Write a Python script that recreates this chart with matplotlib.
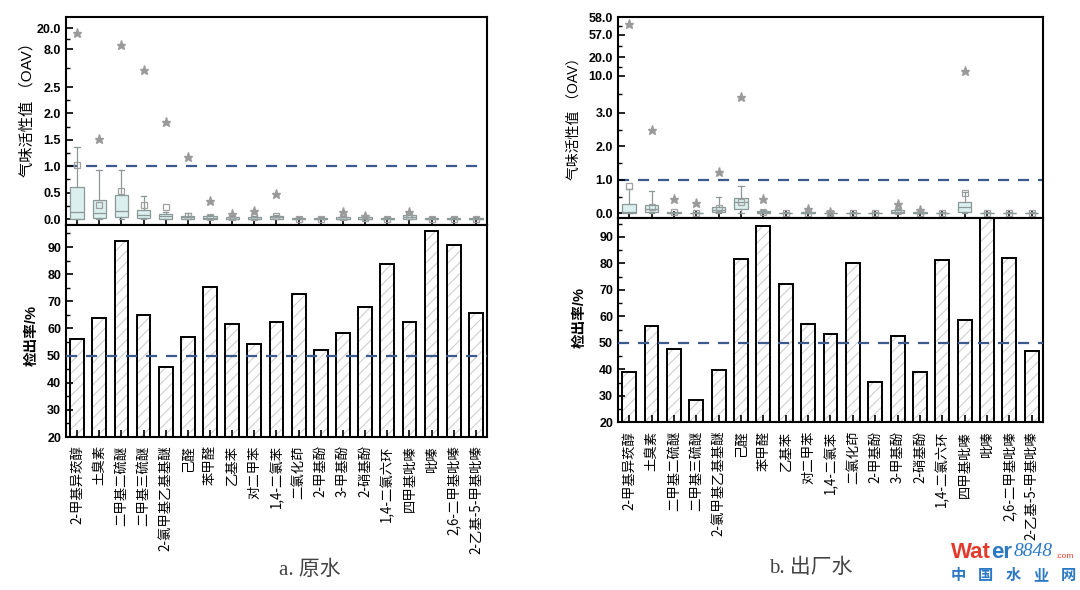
import matplotlib
matplotlib.use('Agg')
import matplotlib.pyplot as plt
import matplotlib.ticker as mticker
import numpy as np

plt.rcParams['font.family'] = ['Liberation Sans', 'Noto Sans CJK SC']
plt.rcParams['axes.unicode_minus'] = False
plt.rcParams['hatch.linewidth'] = 0.8

# ---------------- 数据 ----------------
names = ['2-甲基异莰醇', '土臭素', '二甲基二硫醚', '二甲基三硫醚', '2-氯甲基乙基基醚',
         '己醛', '苯甲醛', '乙基苯', '对二甲苯', '1,4-二氯苯', '二氯化茚',
         '2-甲基酚', '3-甲基酚', '2-硝基酚', '1,4-二氯六环', '四甲基吡嗪',
         '吡嗪', '2,6-二甲基吡嗪', '2-乙基-5-甲基吡嗪']

# 检出率 (%)
rate_raw = [56.0, 64.0, 92.1, 64.8, 45.9, 56.7, 75.3, 61.5, 54.4, 62.4,
            72.7, 51.9, 58.4, 68.0, 83.7, 62.4, 96.0, 90.7, 65.8]
rate_out = [38.9, 56.3, 47.6, 28.6, 39.9, 81.6, 93.9, 72.2, 57.0, 53.2,
            80.0, 35.2, 52.4, 38.9, 81.4, 58.7, 100.0, 81.9, 47.0]

# 气味活性值 OAV 箱线图 - 原水
raw_q1 = [0, 0.02, 0.04, 0.02, 0.01, 0.005, 0.005, 0, 0, 0.005,
          0, 0, 0, 0, 0, 0.01, 0, 0, 0]
raw_med = [0.14, 0.12, 0.16, 0.07, 0.05, 0.03, 0.02, 0.01, 0.01, 0.03,
           0.005, 0.005, 0.01, 0.01, 0.005, 0.03, 0.005, 0.005, 0.005]
raw_q3 = [0.61, 0.37, 0.45, 0.18, 0.10, 0.06, 0.05, 0.03, 0.03, 0.06,
          0.02, 0.02, 0.03, 0.03, 0.02, 0.07, 0.02, 0.02, 0.02]
raw_hi = [1.37, 0.92, 0.92, 0.43, 0.13, 0.12, 0.08, 0.05, 0.05, 0.08,
          0.03, 0.03, 0.05, 0.05, 0.03, 0.09, 0.03, 0.03, 0.03]
raw_mean = [1.03, 0.26, 0.54, 0.26, 0.23, 0.05, 0.04, 0.03, 0.03, 0.05,
            0.01, 0.01, 0.03, 0.02, 0.01, 0.05, 0.01, 0.01, 0.01]
raw_star = [17.0, 1.52, 10.5, 5.0, 1.84, 1.17, 0.34, 0.09, 0.16, 0.48,
            None, None, 0.13, 0.06, None, 0.14, None, None, None]

# 气味活性值 OAV 箱线图 - 出厂水
out_q1 = [0, 0.04, 0, 0, 0.03, 0.12, 0.01, 0, 0, 0,
          0, 0, 0.01, 0, 0, 0.03, 0, 0, 0]
out_med = [0.05, 0.12, 0.01, 0.005, 0.10, 0.33, 0.04, 0.005, 0.01, 0.005,
           0.005, 0.005, 0.05, 0.01, 0.005, 0.18, 0.005, 0.005, 0.005]
out_q3 = [0.28, 0.26, 0.03, 0.02, 0.18, 0.47, 0.07, 0.02, 0.03, 0.02,
          0.02, 0.02, 0.11, 0.03, 0.02, 0.33, 0.02, 0.02, 0.02]
out_hi = [0.73, 0.68, 0.05, 0.04, 0.48, 0.83, 0.10, 0.03, 0.05, 0.03,
          0.03, 0.03, 0.14, 0.05, 0.03, 0.63, 0.03, 0.03, 0.03]
out_mean = [0.83, 0.20, 0.03, 0.02, 0.15, 0.35, 0.05, 0.01, 0.02, 0.02,
            0.01, 0.01, 0.06, 0.02, 0.01, 0.60, 0.01, 0.01, 0.01]
out_star = [57.6, 2.48, 0.42, 0.32, 1.22, 6.0, 0.42, None, 0.12, 0.05,
            None, None, 0.28, 0.10, None, 12.7, None, None, None]

raw_ticks = [0.0, 0.5, 1.0, 1.5, 2.0, 2.5, 8.0, 20.0]
out_ticks = [0.0, 1.0, 2.0, 3.0, 10.0, 20.0, 57.0, 58.0]

# 分段纵轴 (数值 -> 相对位置)
raw_knot_v = [-1, 0, 2.5, 8, 20, 40]
raw_knot_p = [-52, 0, 132, 170, 191, 226]
out_knot_v = [-1, 0, 3, 10, 20, 57, 58, 60]
out_knot_p = [-33.5, 0, 100.5, 137.6, 156, 178.3, 196, 230]

LINE_C = '#3d5a8c'
BOX_FACE = '#dcefef'
BOX_EDGE = '#8c9898'
STAR_C = '#9a9a9a'


def piecewise(kv, kp):
    kv = np.asarray(kv, float)
    kp = np.asarray(kp, float)
    return (lambda v: np.interp(v, kv, kp), lambda p: np.interp(p, kp, kv))


def style_axis(ax):
    for s in ax.spines.values():
        s.set_linewidth(1.5)
    ax.tick_params(axis='both', which='both', direction='in', top=False, right=False)
    ax.tick_params(axis='both', which='major', length=5, width=1.2)
    ax.tick_params(axis='both', which='minor', length=3, width=1.0)
    for lab in ax.get_yticklabels():
        lab.set_fontweight('bold')
        lab.set_fontsize(9)


def draw_box(ax, q1, med, q3, hi, mean, star, kv, kp, ticks, ylim, lab_size):
    stats = []
    for i in range(len(names)):
        stats.append(dict(q1=q1[i], med=med[i], q3=q3[i], whislo=0.0, whishi=hi[i],
                          mean=mean[i], fliers=[] if star[i] is None else [star[i]]))
    fwd, inv = piecewise(kv, kp)
    ax.set_yscale('function', functions=(fwd, inv))
    ax.bxp(stats, positions=np.arange(len(names)), widths=0.6, patch_artist=True,
           showmeans=True, capwidths=0.25,
           boxprops=dict(facecolor=BOX_FACE, edgecolor=BOX_EDGE, linewidth=0.9),
           medianprops=dict(color=BOX_EDGE, linewidth=0.9),
           whiskerprops=dict(color=BOX_EDGE, linewidth=0.9),
           capprops=dict(color=BOX_EDGE, linewidth=0.9),
           meanprops=dict(marker='s', markerfacecolor='none', markeredgecolor='#a0a0a0',
                          markersize=5, markeredgewidth=0.9),
           flierprops=dict(marker='*', markerfacecolor=STAR_C, markeredgecolor=STAR_C,
                           markersize=6.5))
    ax.axhline(1.0, color=LINE_C, lw=1.6, ls=(0, (5, 4)), zorder=0)
    ax.set_xlim(-0.5, len(names) - 0.5)
    ax.set_ylim(*ylim)
    ax.yaxis.set_major_locator(mticker.FixedLocator(ticks))
    ax.yaxis.set_major_formatter(mticker.FormatStrFormatter('%.1f'))
    pos = fwd(np.array(ticks))
    minors = inv((pos[:-1] + pos[1:]) / 2)
    ax.yaxis.set_minor_locator(mticker.FixedLocator(minors))
    ax.set_xticks(np.arange(len(names)))
    ax.set_xticklabels([])
    style_axis(ax)
    ax.set_ylabel('气味活性值 （OAV）', fontsize=lab_size)


def draw_bar(ax, rate, ylim):
    x = np.arange(len(names))
    ax.bar(x, rate, width=0.62, color='white', edgecolor='#cfcfcf', hatch='///',
           linewidth=0, zorder=1)
    ax.bar(x, rate, width=0.62, fill=False, edgecolor='black', linewidth=1.4, zorder=2)
    ax.axhline(50, color=LINE_C, lw=1.6, ls=(0, (5, 4)), zorder=3)
    ax.set_xlim(-0.5, len(names) - 0.5)
    ax.set_ylim(*ylim)
    ax.yaxis.set_major_locator(mticker.MultipleLocator(10))
    ax.yaxis.set_minor_locator(mticker.MultipleLocator(5))
    ax.set_xticks(x)
    ax.set_xticklabels(names, rotation=90, fontsize=9.6, family=['Noto Sans CJK SC'],
                       va='top', ha='center')
    style_axis(ax)
    ax.tick_params(axis='x', pad=6)
    ax.set_ylabel('检出率/%', fontsize=10.5, fontweight='bold')


fig = plt.figure(figsize=(10.8, 5.9), dpi=100)

# 原水
ax_a1 = fig.add_axes([0.0611, 0.6186, 0.3898, 0.3526])
ax_a2 = fig.add_axes([0.0611, 0.2593, 0.3898, 0.3593])
draw_box(ax_a1, raw_q1, raw_med, raw_q3, raw_hi, raw_mean, raw_star,
         raw_knot_v, raw_knot_p, raw_ticks, (-0.115, 26.3), 11)
draw_bar(ax_a2, rate_raw, (20, 98.1))
ax_a1.yaxis.set_label_coords(-0.075, 0.57)
ax_a2.yaxis.set_label_coords(-0.066, 0.48)

# 出厂水
ax_b1 = fig.add_axes([0.5722, 0.6310, 0.3935, 0.3397])
ax_b2 = fig.add_axes([0.5722, 0.2842, 0.3935, 0.3468])
draw_box(ax_b1, out_q1, out_med, out_q3, out_hi, out_mean, out_star,
         out_knot_v, out_knot_p, out_ticks, (-0.13, 58.0), 10)
draw_bar(ax_b2, rate_out, (20, 97.2))
ax_b1.yaxis.set_label_coords(-0.087, 0.51)
ax_b2.yaxis.set_label_coords(-0.073, 0.51)

# 图注
cap_font = ['Liberation Serif', 'Noto Sans CJK SC']
fig.text(310 / 1080, 1 - 570 / 590, 'a. 原水', fontsize=15, family=cap_font,
         color='#444444', ha='center', va='center')
fig.text(811 / 1080, 1 - 568 / 590, 'b. 出厂水', fontsize=15, family=cap_font,
         color='#444444', ha='center', va='center')

# 水印
fig.text(951 / 1080, 1 - 553 / 590, 'Wat', fontsize=16, fontweight='bold',
         color='#e23b2e', va='center')
fig.text(991 / 1080, 1 - 553 / 590, 'er', fontsize=16, fontweight='bold',
         color='#2b78c5', va='center')
fig.text(1014 / 1080, 1 - 552 / 590, '8848', fontsize=14, style='italic',
         family=['Liberation Serif'], color='#2b78c5', va='center')
fig.text(1055 / 1080, 1 - 557 / 590, '.com', fontsize=6, color='#e23b2e', va='center')
for k, ch in enumerate('中国水业网'):
    fig.text((958 + k * 27.5) / 1080, 1 - 575 / 590, ch, fontsize=11, fontweight='bold',
             family=['Noto Sans CJK SC'], color='#2b78c5', ha='center', va='center')

plt.savefig('out.png', dpi=100)
plt.close()
